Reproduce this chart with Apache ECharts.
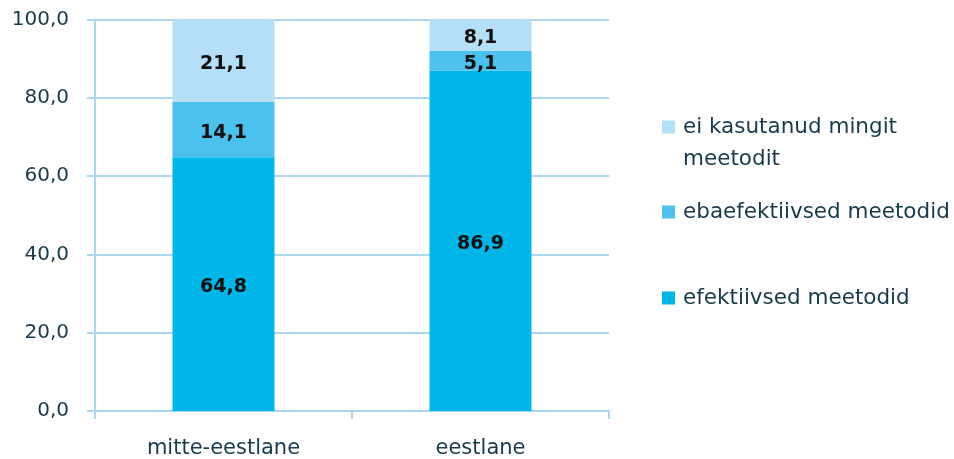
<!DOCTYPE html>
<html>
<head>
<meta charset="utf-8">
<script src="https://cdn.jsdelivr.net/npm/echarts@6/dist/echarts.min.js"></script>
<style>html,body{margin:0;padding:0;background:#fff}#c{width:954px;height:459px}</style>
</head>
<body>
<div id="c"></div>
<script>
const categories = ['mitte-eestlane', 'eestlane'];
const seriesNames = ['efektiivsed meetodid', 'ebaefektiivsed meetodid', 'ei kasutanud mingit\nmeetodit'];
const efektiivsed = [64.8, 86.9];
const ebaefektiivsed = [14.1, 5.1];
const eiKasutanud = [21.1, 8.1];
const yTicks = [0, 20, 40, 60, 80, 100];

const colors = ['#00B5E8', '#4CC1EE', '#B5DFF6'];
const textColor = '#173A4C';
const lineColor = '#AAD7F0';
const font = 'DejaVu Sans';
const fmt = v => v.toFixed(1).replace('.', ',');

const chart = echarts.init(document.getElementById('c'));
const values = [efektiivsed, ebaefektiivsed, eiKasutanud];

function legend(name, top, twoLine) {
  return {
    data: [name], left: 662, top: top, padding: 0,
    itemWidth: 13, itemHeight: 13, itemGap: 0, icon: 'rect',
    selectedMode: false,
    formatter: twoLine ? (n => '\n' + n) : (n => n),
    textStyle: { fontFamily: font, fontSize: 21.5, color: textColor, lineHeight: 32, padding: [0, 0, 0, 3] }
  };
}

chart.setOption({
  animation: false,
  grid: { left: 95, right: 345, top: 19.5, bottom: 47 },
  legend: [
    legend(seriesNames[2], 79, true),
    legend(seriesNames[1], 196, false),
    legend(seriesNames[0], 282, false)
  ],
  xAxis: {
    type: 'category', data: categories,
    axisLine: { lineStyle: { color: lineColor, width: 2 } },
    axisTick: { show: true, length: 8, lineStyle: { color: lineColor, width: 2 } },
    axisLabel: { fontFamily: font, fontSize: 21, color: textColor, margin: 27 }
  },
  yAxis: {
    type: 'value', min: yTicks[0], max: yTicks[yTicks.length - 1], interval: 20,
    axisLine: { show: true, lineStyle: { color: lineColor, width: 2 } },
    axisTick: { show: true, length: 8, lineStyle: { color: lineColor, width: 2 } },
    splitLine: { lineStyle: { color: lineColor, width: 2 } },
    axisLabel: { fontFamily: font, fontSize: 20, color: textColor, margin: 26, padding: [6, 0, 0, 0], formatter: v => fmt(v) }
  },
  series: values.map((vals, i) => ({
    name: seriesNames[i], type: 'bar', stack: 'total', barWidth: 102,
    itemStyle: { color: colors[i] },
    label: {
      show: true, position: 'inside', fontFamily: font, fontSize: 19, fontWeight: 'bold',
      color: '#111', offset: [0, 3], formatter: p => fmt(p.value)
    },
    data: vals
  }))
});
</script>
</body>
</html>
